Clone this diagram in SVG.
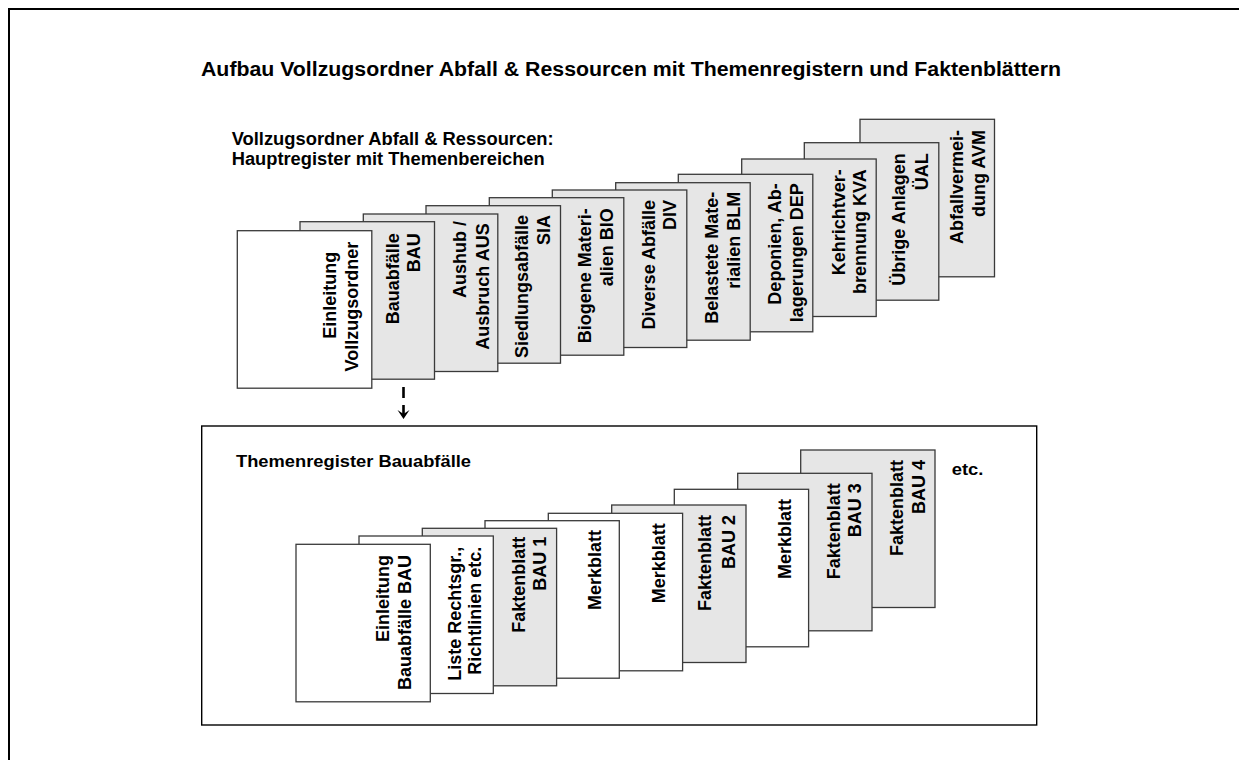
<svg xmlns="http://www.w3.org/2000/svg" width="1239" height="760" viewBox="0 0 1239 760">
<style>
.pg{fill:#e6e6e6;stroke:#3a3a3a;stroke-width:1.3}
.pw{fill:#ffffff;stroke:#3a3a3a;stroke-width:1.3}
.lbl{font-family:"Liberation Sans",Arial,sans-serif;font-weight:bold;font-size:18px;fill:#000;text-anchor:end}
.hd{font-family:"Liberation Sans",Arial,sans-serif;font-weight:bold;fill:#000}
</style>
<defs>
<marker id="ah" markerWidth="10" markerHeight="13" refX="9" refY="6.5" orient="auto" markerUnits="userSpaceOnUse" viewBox="0 0 10 13">
<path d="M0,0.5 L9,6.5 L0,12.5 L4,6.5 z" fill="#000"/>
</marker>
</defs>
<rect width="1239" height="760" fill="#fff"/>
<path d="M9,770 V9 H1250" fill="none" stroke="#000" stroke-width="2"/>
<text class="hd" x="201" y="75.7" font-size="20" textLength="860" lengthAdjust="spacingAndGlyphs">Aufbau Vollzugsordner Abfall &amp; Ressourcen mit Themenregistern und Faktenblättern</text>
<text class="hd" x="231.7" y="145" font-size="17.5" textLength="322" lengthAdjust="spacingAndGlyphs">Vollzugsordner Abfall &amp; Ressourcen:</text>
<text class="hd" x="231.7" y="165" font-size="17.5" textLength="313" lengthAdjust="spacingAndGlyphs">Hauptregister mit Themenbereichen</text>

<g id="top-stack">
<g id="avm"><rect class="pg" x="860" y="119.3" width="134.5" height="157.5"/><text class="lbl" transform="translate(963 130) rotate(-90)">Abfallvermei-</text><text class="lbl" transform="translate(984.7 130) rotate(-90)">dung AVM</text></g>
<g id="ual"><rect class="pg" x="804.3" y="142.7" width="134.5" height="157.5"/><text class="lbl" transform="translate(904.7 153.3) rotate(-90)">Übrige Anlagen</text><text class="lbl" transform="translate(928 153.3) rotate(-90)">ÜAL</text></g>
<g id="kva"><rect class="pg" x="741.7" y="159" width="134.5" height="157.5"/><text class="lbl" transform="translate(844.7 169.3) rotate(-90)">Kehrichtver-</text><text class="lbl" transform="translate(866.3 169.3) rotate(-90)">brennung KVA</text></g>
<g id="dep"><rect class="pg" x="678.3" y="174.3" width="134.5" height="157.5"/><text class="lbl" transform="translate(781.3 183.3) rotate(-90)">Deponien, Ab-</text><text class="lbl" transform="translate(803 183.3) rotate(-90)">lagerungen DEP</text></g>
<g id="blm"><rect class="pg" x="615.7" y="182.7" width="134.5" height="157.5"/><text class="lbl" transform="translate(718 191.7) rotate(-90)">Belastete Mate-</text><text class="lbl" transform="translate(739.7 191.7) rotate(-90)">rialien BLM</text></g>
<g id="div"><rect class="pg" x="552.3" y="190" width="134.5" height="157.5"/><text class="lbl" transform="translate(654.7 200) rotate(-90)">Diverse Abfälle</text><text class="lbl" transform="translate(676.3 200) rotate(-90)">DIV</text></g>
<g id="bio"><rect class="pg" x="489.3" y="197.7" width="134.5" height="157.5"/><text class="lbl" transform="translate(591.3 208.3) rotate(-90)">Biogene Materi-</text><text class="lbl" transform="translate(613 208.3) rotate(-90)">alien BIO</text></g>
<g id="sia"><rect class="pg" x="426" y="205.7" width="134.5" height="157.5"/><text class="lbl" transform="translate(528 215) rotate(-90)">Siedlungsabfälle</text><text class="lbl" transform="translate(549.7 215) rotate(-90)">SIA</text></g>
<g id="aus"><rect class="pg" x="363.3" y="214" width="134.5" height="157.5"/><text class="lbl" transform="translate(465.7 221) rotate(-90)">Aushub /</text><text class="lbl" transform="translate(488.7 223.3) rotate(-90)">Ausbruch AUS</text></g>
<g id="bau"><rect class="pg" x="300" y="221.7" width="134.5" height="157.5"/><text class="lbl" transform="translate(399 233.3) rotate(-90)">Bauabfälle</text><text class="lbl" transform="translate(419.7 233.3) rotate(-90)">BAU</text></g>
<g id="einleitung"><rect class="pw" x="237.3" y="230.7" width="134.5" height="157.5"/><text class="lbl" transform="translate(336.3 251.7) rotate(-90)">Einleitung</text><text class="lbl" transform="translate(358 241.7) rotate(-90)">Vollzugsordner</text></g>
</g>

<g id="connectors">
<line x1="403.5" y1="387" x2="403.5" y2="419" stroke="#000" stroke-width="2.6" stroke-dasharray="11 7" marker-end="url(#ah)"/>
</g>

<g id="themenregister">
<rect x="201.7" y="426" width="835" height="299" fill="none" stroke="#000" stroke-width="1.4"/>
<text class="hd" x="236" y="466.7" font-size="16.5" textLength="235" lengthAdjust="spacingAndGlyphs">Themenregister Bauabfälle</text>
<text class="hd" x="951.7" y="475" font-size="17" textLength="31.7" lengthAdjust="spacingAndGlyphs">etc.</text>
</g>

<g id="bottom-stack">
<g id="fb-bau4"><rect class="pg" x="800.7" y="450" width="134.3" height="157.5"/><text class="lbl" transform="translate(903 460) rotate(-90)">Faktenblatt</text><text class="lbl" transform="translate(924.7 460) rotate(-90)">BAU 4</text></g>
<g id="fb-bau3"><rect class="pg" x="737.7" y="473.3" width="134.3" height="157.5"/><text class="lbl" transform="translate(839.7 483.3) rotate(-90)">Faktenblatt</text><text class="lbl" transform="translate(861.3 483.3) rotate(-90)">BAU 3</text></g>
<g id="mb-3"><rect class="pw" x="674.3" y="489.3" width="134.3" height="157.5"/><text class="lbl" transform="translate(791.3 499) rotate(-90)">Merkblatt</text></g>
<g id="fb-bau2"><rect class="pg" x="611.7" y="505" width="134.3" height="157.5"/><text class="lbl" transform="translate(711.3 515) rotate(-90)">Faktenblatt</text><text class="lbl" transform="translate(734.7 515) rotate(-90)">BAU 2</text></g>
<g id="mb-2"><rect class="pw" x="548.3" y="513.3" width="134.3" height="157.5"/><text class="lbl" transform="translate(664.7 523.3) rotate(-90)">Merkblatt</text></g>
<g id="mb-1"><rect class="pw" x="485" y="520.7" width="134.3" height="157.5"/><text class="lbl" transform="translate(601.3 530) rotate(-90)">Merkblatt</text></g>
<g id="fb-bau1"><rect class="pg" x="422.3" y="528.3" width="134.3" height="157.5"/><text class="lbl" transform="translate(524.7 536.7) rotate(-90)">Faktenblatt</text><text class="lbl" transform="translate(546.3 536.7) rotate(-90)">BAU 1</text></g>
<g id="liste"><rect class="pw" x="359" y="536" width="134.3" height="157.5"/><text class="lbl" transform="translate(461.3 546.7) rotate(-90)">Liste Rechtsgr.,</text><text class="lbl" transform="translate(481.3 546.7) rotate(-90)">Richtlinien etc.</text></g>
<g id="einleitung-bau"><rect class="pw" x="296" y="544.3" width="134.3" height="157.5"/><text class="lbl" transform="translate(388.7 555) rotate(-90)">Einleitung</text><text class="lbl" transform="translate(411.3 555) rotate(-90)">Bauabfälle BAU</text></g>
</g>
</svg>
